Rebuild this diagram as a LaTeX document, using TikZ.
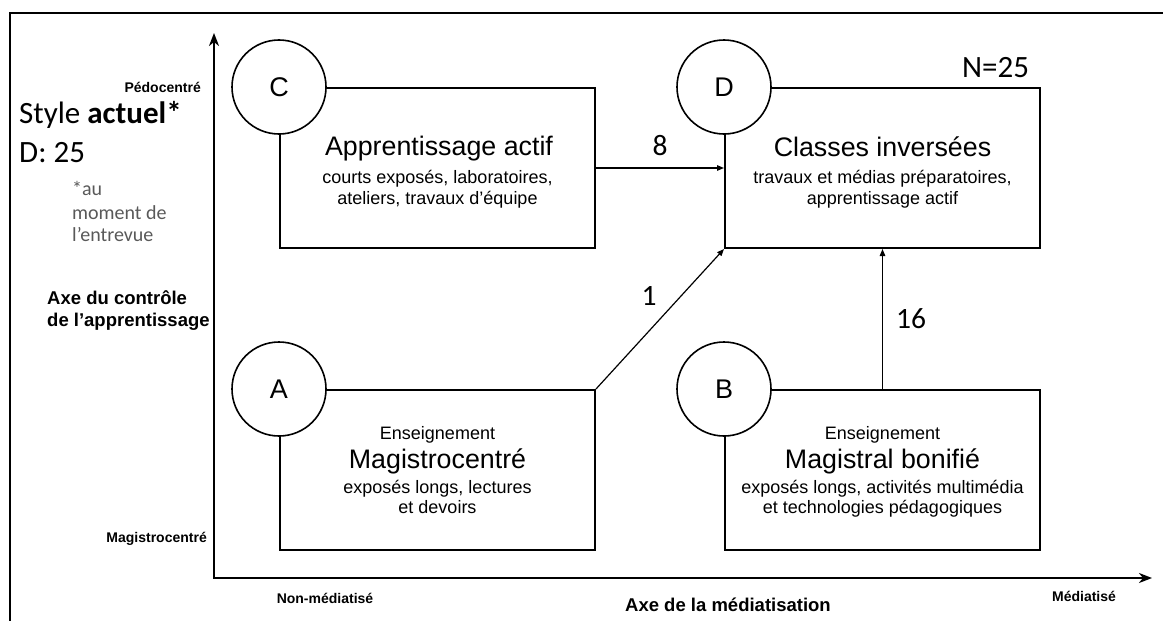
\documentclass[tikz,border=0pt]{standalone}
\usepackage{fontspec}
\setmainfont{Liberation Sans}
\newfontfamily\calfont{Carlito}
\usetikzlibrary{arrows.meta}
\newcommand{\fsz}[1]{\fontsize{#1}{#1}\selectfont}
\definecolor{notegray}{RGB}{89,89,89}
\begin{document}
\begin{tikzpicture}[x=1pt,y=-1pt,
  box/.style={draw, line width=2pt, minimum width=315pt, minimum height=160pt, inner sep=0pt},
  letter/.style={draw, circle, fill=white, line width=1.6pt, minimum size=94pt, inner sep=0pt, font=\fsz{27}},
  title/.style={anchor=base, inner sep=0pt, font=\fsz{26.8}},
  sub/.style={anchor=base, inner sep=0pt, font=\fsz{18}},
  axislab/.style={inner sep=0pt, font=\bfseries\fsz{14}},
  axisname/.style={inner sep=0pt, font=\bfseries\fsz{18.5}},
  num/.style={inner sep=0pt, font=\calfont\fsz{29.5}},
  big/.style={inner sep=0pt, font=\calfont\fsz{31}},
  note/.style={anchor=base west, inner sep=0pt, font=\calfont\fsz{20}, text=notegray},
  conn/.style={line width=1.2pt, -{Triangle[length=7pt,width=5.5pt]}},
  axis/.style={line width=2.2pt, {Stealth[length=13pt,width=10pt,inset=4pt]}-{Stealth[length=13pt,width=10pt,inset=4pt]}},
]
\useasboundingbox (0,0) rectangle (1163,621);
% outer frame
\draw[line width=2pt] (10,623) -- (10,13) -- (1165,13);
% axes
\coordinate (O) at (214,578);
\coordinate (Ytop) at (214,33);
\coordinate (Xend) at (1152,578);
\draw[axis] (Ytop) -- (O) -- (Xend);
% boxes
\node[box] (boxC) at (437.5,168) {};
\node[box] (boxD) at (882.5,168) {};
\node[box] (boxA) at (437.5,470) {};
\node[box] (boxB) at (882.5,470) {};
% circles
\node[letter] (cC) at (boxC.north west) {C};
\node[letter] (cD) at (boxD.north west) {D};
\node[letter] (cA) at (boxA.north west) {A};
\node[letter] (cB) at (boxB.north west) {B};
% box texts
\node[title] (tC1) at (439,155) {Apprentissage actif};
\node[sub] (tC2) at (437.5,183) {courts exposés, laboratoires,};
\node[sub] (tC3) at (437.5,204) {ateliers, travaux d’équipe};
\node[title] (tD1) at (882.5,156) {Classes inversées};
\node[sub] (tD2) at (882.5,183) {travaux et médias préparatoires,};
\node[sub] (tD3) at (882.5,204) {apprentissage actif};
\node[sub] (tA1) at (437.5,439) {Enseignement};
\node[title] (tA2) at (437.5,468) {Magistrocentré};
\node[sub] (tA3) at (437.5,493) {exposés longs, lectures};
\node[sub] (tA4) at (437.5,513) {et devoirs};
\node[sub] (tB1) at (882.5,439) {Enseignement};
\node[title] (tB2) at (882.5,468) {Magistral bonifié};
\node[sub] (tB3) at (882.5,493) {exposés longs, activités multimédia};
\node[sub] (tB4) at (882.5,513) {et technologies pédagogiques};
% connectors
\draw[conn] (boxC.east) -- node[num, above=12pt] (n8) {8} (boxD.west);
\draw[conn] (boxA.north east) -- node[num, xshift=-11pt, yshift=23pt] (n1) {1} (boxD.south west);
\draw[conn] (boxB.north) -- node[num, right=13pt] (n16) {16} (boxD.south);
\node[big, anchor=base west] (N25) at (962,77) {N=25};
% left texts
\node[axislab, anchor=base east] (pedo) at (201,92) {Pédocentré};
\node[big, anchor=base west] (style) at (19,123) {Style \textbf{actuel*}};
\node[big, anchor=base west] (d25) at (19,162) {D: 25};
\node[note] (note1) at (72,195) {*au};
\node[note] (note2) at (72,219) {moment de};
\node[note] (note3) at (72,241) {l’entrevue};
\node[axisname, anchor=base west] (ay1) at (47,304) {Axe du contrôle};
\node[axisname, anchor=base west] (ay2) at (47,326) {de l’apprentissage};
\node[axislab, anchor=base east] (magi) at (207,542) {Magistrocentré};
\node[axislab, anchor=base] (nonmed) at (325,603) {Non-médiatisé};
\node[axislab, anchor=base] (med) at (1084,601) {Médiatisé};
\node[axisname, anchor=base] (ax) at (728,611) {Axe de la médiatisation};
\end{tikzpicture}
\end{document}
